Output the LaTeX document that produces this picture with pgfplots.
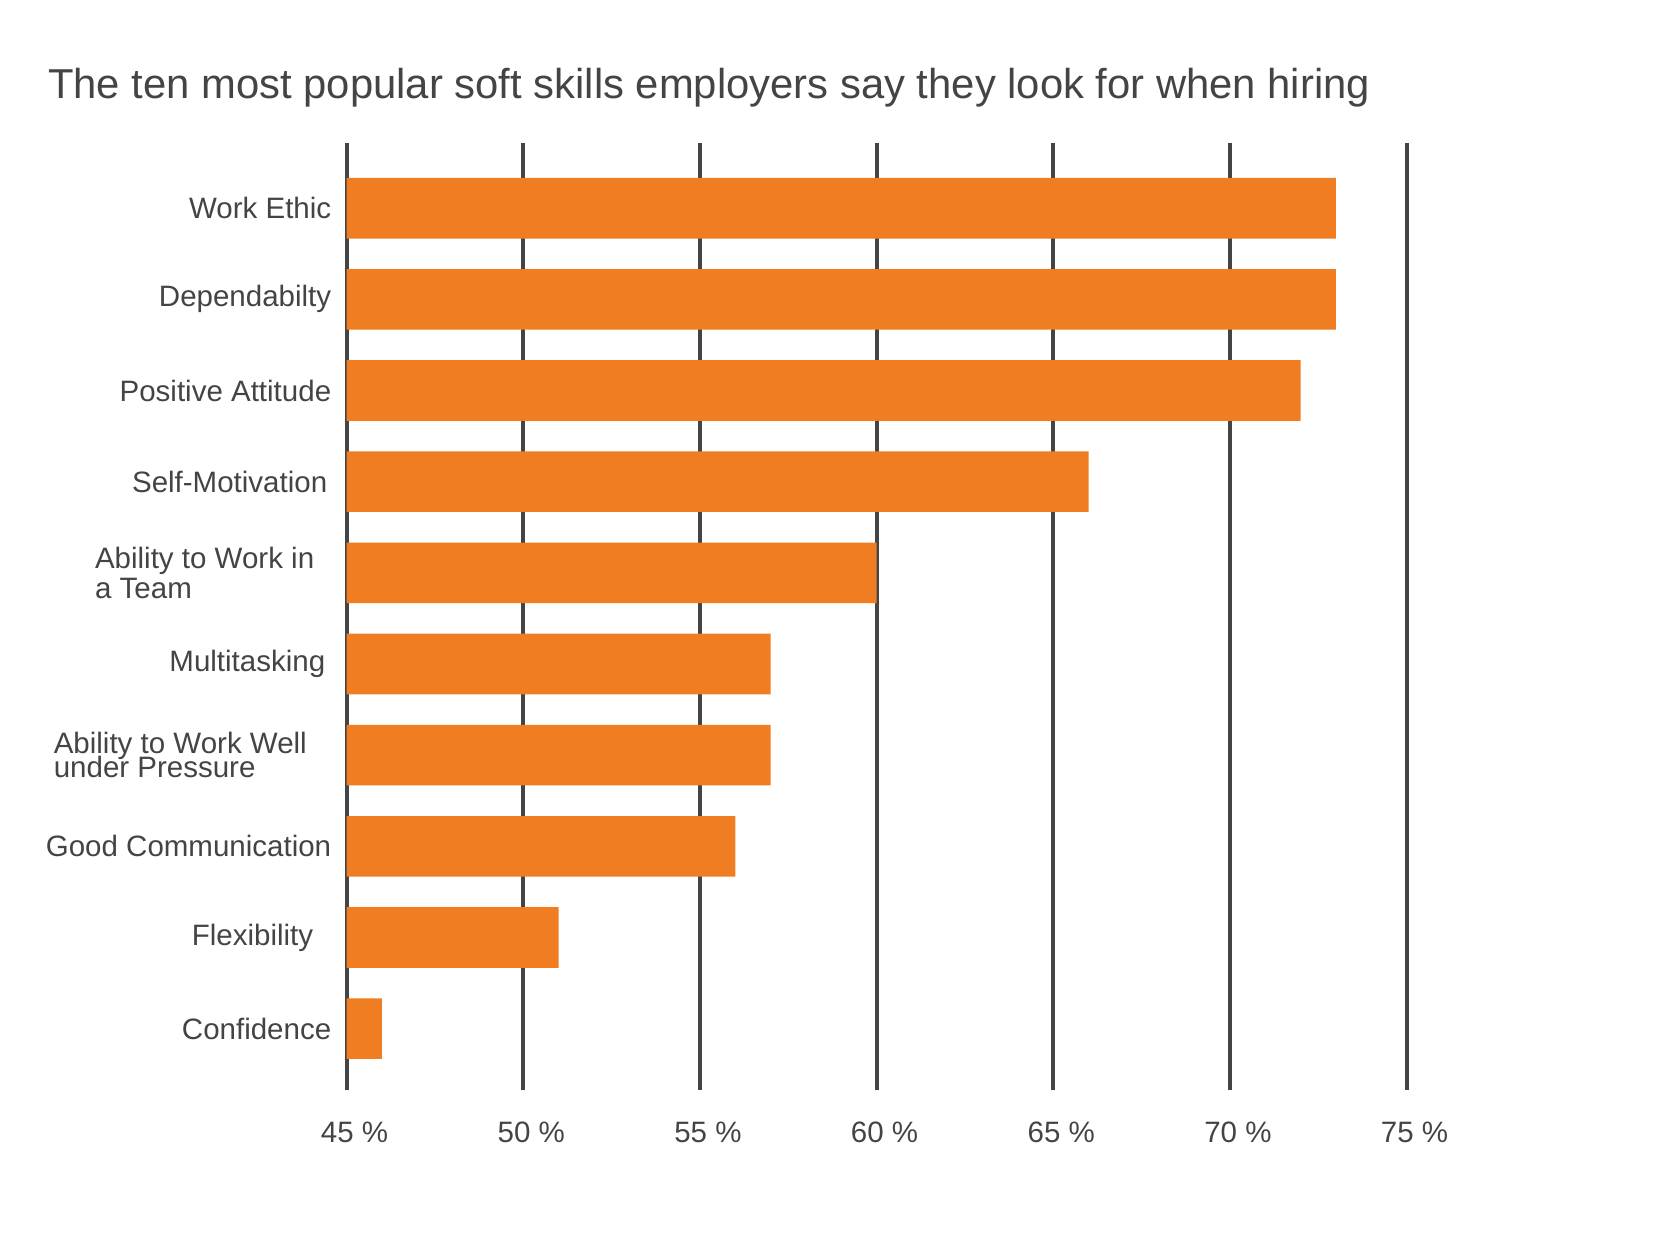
\documentclass[border=0pt]{standalone}
\usepackage{fontspec}
\setmainfont{Liberation Sans}
\usepackage{pgfplots}
\pgfplotsset{compat=1.18}
\definecolor{barorange}{HTML}{F07D21}
\definecolor{gridgray}{HTML}{444444}
\definecolor{textgray}{HTML}{444444}
\begin{document}
\begin{tikzpicture}
\path[use as bounding box] (0,0) rectangle (833.5pt,617pt);
\node[anchor=base west, inner sep=0pt, text=textgray, font=\fontsize{20.9pt}{25pt}\selectfont] at (23.9pt,567.5pt) {The ten most popular soft skills employers say they look for when hiring};
\begin{axis}[
  at={(173.3pt,72.15pt)}, anchor=south west,
  scale only axis, width=530pt, height=473.1pt,
  xmin=45, xmax=75, ymin=-0.71, ymax=9.67, y dir=reverse,
  xbar, bar shift=0pt, bar width=30.3pt,
  xtick={45,50,55,60,65,70,75},
  xticklabels={45 \%,50 \%,55 \%,60 \%,65 \%,70 \%,75 \%},
  ytick={0,1,2,3,4,5,6,7,8,9},
  yticklabels={
    {Work Ethic},
    {Dependabilty},
    {Positive Attitude},
    {Self-Motivation\rule{2pt}{0pt}},
    {Ability to Work in\rule{8.5pt}{0pt}\\a Team},
    {Multitasking\rule{3pt}{0pt}},
    {Ability to Work Well\rule{12.2pt}{0pt}\\[-2.7pt]under Pressure},
    {Good Communication},
    {Flexibility\rule{9pt}{0pt}},
    {Confidence}},
  xmajorgrids, major grid style={gridgray, line width=2pt},
  axis line style={draw=none},
  major tick length=0pt,
  tick label style={text=textgray},
  x tick label style={font=\fontsize{14.75pt}{17pt}\selectfont, anchor=base, yshift=-26.6pt, xshift=4pt, inner sep=0pt},
  y tick label style={font=\fontsize{14.75pt}{15pt}\selectfont, anchor=east, align=left, inner sep=0pt, xshift=-7.5pt},
]
\addplot[fill=barorange, draw=none] coordinates {(73,0) (73,1) (72,2) (66,3) (60,4) (57,5) (57,6) (56,7) (51,8) (46,9)};
\end{axis}
\end{tikzpicture}
\end{document}
